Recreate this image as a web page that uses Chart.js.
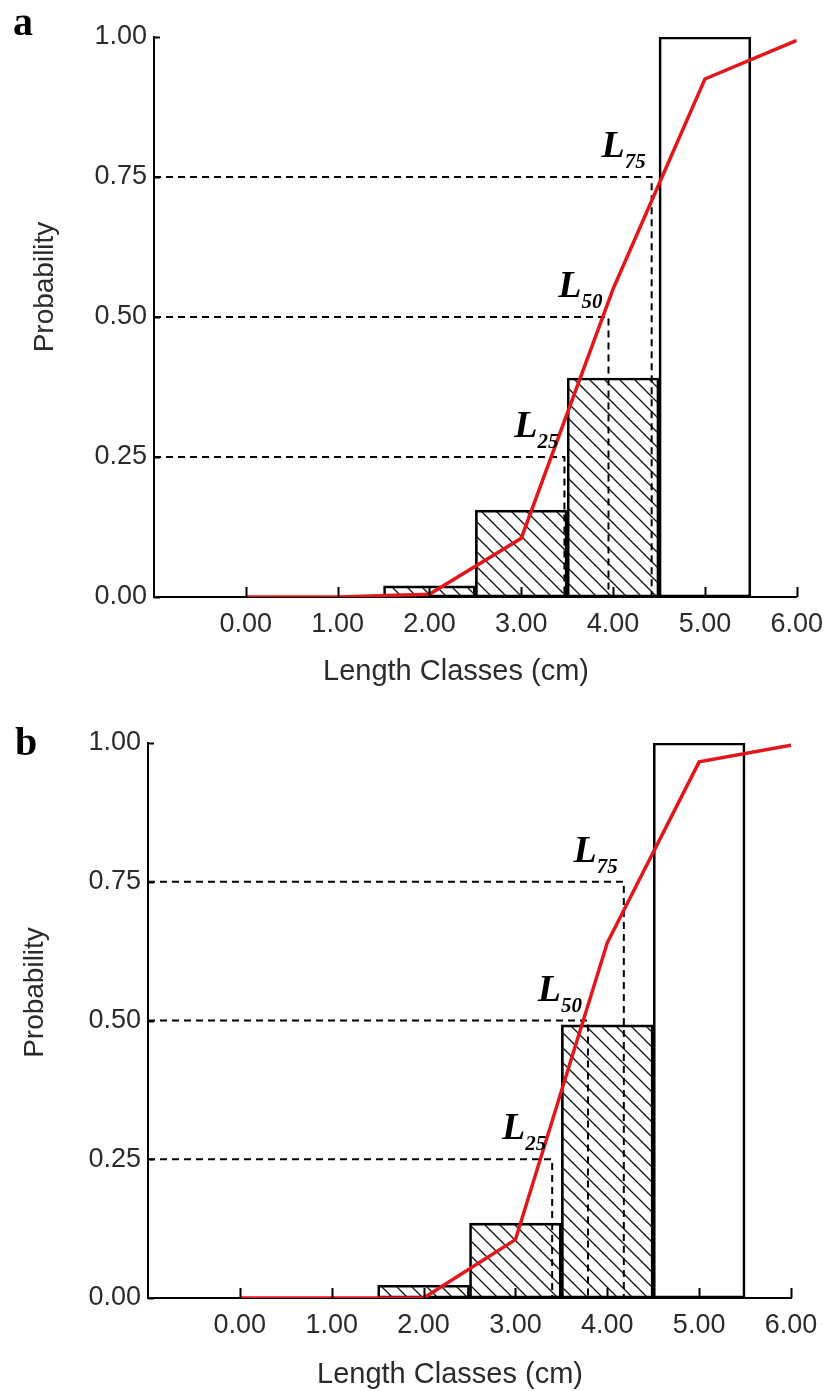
<!DOCTYPE html>
<html lang="en">
<head>
<meta charset="UTF-8">
<title>Probability of capture by length class</title>
<script src="https://cdn.jsdelivr.net/npm/chart.js"></script>
<style>
  body { margin: 0; background: #fff; }
  .panel { width: 834px; }
  canvas { display: block; }
</style>
</head>
<body>
<div class="panel"><canvas id="chartA" width="834" height="695"></canvas></div>
<div class="panel"><canvas id="chartB" width="834" height="696"></canvas></div>
<script>
// axis range and tick labels
const xMin = -1, xMax = 6;
const xTicks = [0, 1, 2, 3, 4, 5, 6];
const yTicks = [0, 0.25, 0.5, 0.75, 1];

// length classes (mid-points of 1.5-2.5 ... 4.5-5.5) and their proportions
const classMids = [2, 3, 4, 5];
const barsA = [0.02, 0.155, 0.391, 1.0];
const barsB = [0.023, 0.135, 0.492, 1.0];
const hatched = [true, true, true, false];

// fitted selection curve
const curveX = [0, 1, 2, 3, 4, 5, 6];
const curveA = [0, 0, 0.005, 0.105, 0.55, 0.925, 0.994];
const curveB = [0, 0, 0, 0.105, 0.64, 0.966, 0.996];

// L25, L50, L75
const probLevels = [0.25, 0.5, 0.75];
const levelNames = ['25', '50', '75'];
const lengthsA = [3.47, 3.95, 4.42];
const lengthsB = [3.40, 3.79, 4.18];

const sans = '"Liberation Sans", Arial, sans-serif';
const serif = '"Liberation Serif", "Times New Roman", serif';
const textColor = '#2b2b2b';

function hatch() {
    const s = 15;
    const c = document.createElement('canvas');
    c.width = s; c.height = s;
    const g = c.getContext('2d');
    g.strokeStyle = '#111';
    g.lineWidth = 1.3;
    g.beginPath();
    g.moveTo(-2, -2); g.lineTo(s + 2, s + 2);
    g.moveTo(s - 2, -2); g.lineTo(s + 2, 2);
    g.moveTo(-2, s - 2); g.lineTo(2, s + 2);
    g.stroke();
    return g.createPattern(c, 'repeat');
}

// ticks pointing inward, axis titles, L labels and panel letter
const decor = {
    id: 'decor',
    afterDraw(chart, args, o) {
        const { ctx, chartArea: a, scales: { x, y } } = chart;
        ctx.save();
        ctx.strokeStyle = '#000';
        ctx.lineWidth = 2;
        ctx.beginPath();
        xTicks.forEach(v => {
            const px = Math.round(x.getPixelForValue(v)) + 0.5;
            ctx.moveTo(px, a.bottom); ctx.lineTo(px, a.bottom - 10);
        });
        yTicks.forEach(v => {
            const py = Math.round(y.getPixelForValue(v)) + 0.5;
            ctx.moveTo(a.left, py); ctx.lineTo(a.left + 6, py);
        });
        ctx.stroke();

        // L labels
        ctx.fillStyle = '#000';
        ctx.textBaseline = 'alphabetic';
        ctx.textAlign = 'left';
        o.lengths.forEach((L, i) => {
            const px = x.getPixelForValue(L);
            const py = y.getPixelForValue(probLevels[i]);
            ctx.font = 'italic bold 38px ' + serif;
            const wL = ctx.measureText('L').width;
            ctx.font = 'italic bold 21px ' + serif;
            const wS = ctx.measureText(levelNames[i]).width;
            const x0 = px - 6 - wL - wS;
            ctx.font = 'italic bold 38px ' + serif;
            ctx.fillText('L', x0, py - 20);
            ctx.font = 'italic bold 21px ' + serif;
            ctx.fillText(levelNames[i], x0 + wL, py - 9);
        });

        // axis titles
        ctx.fillStyle = textColor;
        ctx.textAlign = 'center';
        ctx.font = '29px ' + sans;
        ctx.fillText('Length Classes (cm)', a.left + o.xTitleDx, a.bottom + o.xTitleDy);
        ctx.save();
        ctx.translate(o.yTitleX, (a.top + a.bottom) / 2 + o.yTitleDy);
        ctx.rotate(-Math.PI / 2);
        ctx.font = '28px ' + sans;
        ctx.fillText('Probability', 0, 0);
        ctx.restore();

        // panel letter
        ctx.fillStyle = '#000';
        ctx.textAlign = 'left';
        ctx.font = 'bold 40px ' + serif;
        ctx.fillText(o.letter, o.letterX, o.letterY);
        ctx.restore();
    }
};

function makePanel(id, bars, curve, lengths, p) {
    const canvas = document.getElementById(id);
    const pattern = hatch();
    const dashed = lengths.map((L, i) => ({
        type: 'line',
        data: [{ x: xMin, y: probLevels[i] }, { x: L, y: probLevels[i] }, { x: L, y: 0 }],
        borderColor: '#000',
        borderWidth: 2,
        borderDash: [7, 5],
        pointRadius: 0,
        fill: false,
        order: 2
    }));

    new Chart(canvas, {
        type: 'bar',
        data: {
            datasets: [
                {
                    type: 'bar',
                    data: classMids.map((m, i) => ({ x: m, y: bars[i] })),
                    backgroundColor: hatched.map(h => h ? pattern : 'rgba(255,255,255,0)'),
                    borderColor: '#000',
                    borderWidth: 2,
                    borderSkipped: false,
                    barPercentage: 1,
                    categoryPercentage: 1,
                    order: 3
                },
                ...dashed,
                {
                    type: 'line',
                    data: curveX.map((v, i) => ({ x: v, y: curve[i] })),
                    borderColor: '#e3161b',
                    borderWidth: 3.5,
                    pointRadius: 0,
                    tension: 0,
                    fill: false,
                    order: 1
                }
            ]
        },
        options: {
            responsive: false,
            animation: false,
            layout: { padding: { left: 0, top: p.top, right: p.right, bottom: 0 } },
            plugins: {
                legend: { display: false },
                tooltip: { enabled: false },
                decor: p
            },
            scales: {
                x: {
                    type: 'linear',
                    min: xMin,
                    max: xMax,
                    offset: false,
                    afterBuildTicks: s => { s.ticks = xTicks.map(v => ({ value: v })); },
                    afterFit: s => { s.height = p.xAxisH; },
                    grid: { display: false, drawTicks: false, offset: false },
                    border: { display: true, color: '#000', width: 2 },
                    ticks: {
                        callback: v => Number(v).toFixed(2),
                        font: { family: sans, size: 27 },
                        color: textColor,
                        padding: 11,
                        maxRotation: 0,
                        autoSkip: false
                    }
                },
                y: {
                    type: 'linear',
                    min: 0,
                    max: 1,
                    afterBuildTicks: s => { s.ticks = yTicks.map(v => ({ value: v })); },
                    afterFit: s => { s.width = p.left; },
                    grid: { display: false, drawTicks: false },
                    border: { display: true, color: '#000', width: 2 },
                    ticks: {
                        callback: v => Number(v).toFixed(2),
                        font: { family: sans, size: 27 },
                        color: textColor,
                        padding: 7
                    }
                }
            }
        },
        plugins: [decor]
    });
}

makePanel('chartA', barsA, curveA, lengthsA, {
    letter: 'a', letterX: 13, letterY: 35,
    left: 154, top: 37, right: 35, xAxisH: 98,
    lengths: lengthsA,
    xTitleDx: 302, xTitleDy: 83,
    yTitleX: 53, yTitleDy: -30
});

makePanel('chartB', barsB, curveB, lengthsB, {
    letter: 'b', letterX: 15, letterY: 60,
    left: 148, top: 48, right: 43, xAxisH: 93,
    lengths: lengthsB,
    xTitleDx: 302, xTitleDy: 85,
    yTitleX: 43, yTitleDy: -28
});
</script>
</body>
</html>
